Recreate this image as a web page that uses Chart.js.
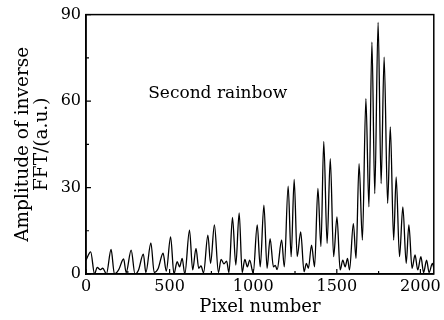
<!DOCTYPE html>
<html>
<head>
<meta charset="utf-8">
<script src="https://cdn.jsdelivr.net/npm/chart.js@4/dist/chart.umd.min.js"></script>
<style>
  html, body { margin: 0; padding: 0; background: #fff; }
  #wrap { width: 444px; height: 320px; }
</style>
</head>
<body>
<div id="wrap"><canvas id="c" width="444" height="320"></canvas></div>
<script>
const pixelNumber = [0,28,51,67,85,100,122,150,170,195,225,240,270,293,313,343,358,388,408,431,461,480,506,526,545,560,575,591,619,638,658,674,688,703,729,745,768,792,808,825,841,855,876,896,916,934,950,965,979,1000,1024,1042,1064,1083,1101,1121,1132,1143,1170,1186,1209,1227,1245,1263,1284,1304,1318,1330,1349,1367,1387,1405,1422,1442,1461,1481,1501,1520,1536,1550,1564,1576,1599,1615,1633,1653,1674,1692,1710,1727,1747,1765,1783,1804,1820,1840,1855,1875,1895,1915,1931,1950,1968,1984,2003,2019,2037,2052,2072,2080];
const amplitude = [4.8,7.7,0,2.3,1.5,2,0,8.5,0,1.4,5.2,0.5,8.3,0,1.2,6.9,0.5,10.8,0.5,1.8,7.2,1,12.9,0,4.3,2.5,5.4,0,15.2,1.4,8.9,2,2.8,0.4,13.5,3.7,17,0.5,5.1,3.5,4.5,0.5,19.6,3.1,21.2,0.5,5.1,2.5,4.8,0.3,17,2.5,23.9,2,12.3,2.5,3,1.5,11.8,2.5,30.5,6,32.8,6,14.6,0.8,3.7,2,10,2.5,29.7,9.5,46,10.6,40,6,19.8,1.4,4.8,2.5,5.4,1.4,17.5,5.4,38.3,11.8,60.8,23.3,80.4,27.9,87.3,31.4,75.2,24.5,51,11.8,33.7,6,23.3,3.7,17,2,6.6,1.4,6,0.5,4.8,0.5,3.7,2];
const xTicks = [0,500,1000,1500,2000];
const yTicks = [0,30,60,90];
const xTitle = 'Pixel number';
const yTitle = ['Amplitude of inverse', 'FFT/(a.u.)'];
const noteText = 'Second rainbow';
const notePos = {x: 372, y: 62.7};

const points = pixelNumber.map((x, i) => ({x: x, y: amplitude[i]}));
const serif = "'DejaVu Serif', 'Liberation Serif', serif";

const framePlugin = {
  id: 'frame',
  afterDatasetsDraw(chart) {
    const {ctx, chartArea: a, scales} = chart;
    ctx.save();
    ctx.strokeStyle = '#000';
    ctx.lineWidth = 1.5;
    ctx.strokeRect(a.left, a.top, a.right - a.left, a.bottom - a.top);
    ctx.lineWidth = 1.2;
    ctx.beginPath();
    for (let v = 0; v <= 2000; v += 250) {
      const px = scales.x.getPixelForValue(v);
      const len = (v % 500 === 0) ? 5 : 3;
      ctx.moveTo(px, a.bottom); ctx.lineTo(px, a.bottom - len);
    }
    for (let v = 0; v <= 90; v += 15) {
      const py = scales.y.getPixelForValue(v);
      const len = (v % 30 === 0) ? 5 : 3;
      ctx.moveTo(a.left, py); ctx.lineTo(a.left + len, py);
    }
    ctx.stroke();
    ctx.fillStyle = '#000';
    ctx.font = Chart.helpers.toFont({ family: serif, size: 17 }).string;
    ctx.textBaseline = 'middle';
    ctx.textAlign = 'left';
    ctx.fillText(noteText, scales.x.getPixelForValue(notePos.x), scales.y.getPixelForValue(notePos.y));
    ctx.restore();
  }
};

new Chart(document.getElementById('c'), {
  type: 'line',
  data: {
    datasets: [{
      data: points,
      borderColor: '#000',
      borderWidth: 1.3,
      pointRadius: 0,
      fill: false,
      cubicInterpolationMode: 'monotone'
    }]
  },
  options: {
    responsive: false,
    animation: false,
    events: [],
    layout: { padding: { top: 14, right: 6, left: 0, bottom: 0 } },
    plugins: { legend: { display: false }, tooltip: { enabled: false } },
    scales: {
      x: {
        type: 'linear',
        min: 0, max: 2080,
        afterBuildTicks(s) { s.ticks = xTicks.map(v => ({value: v})); },
        afterFit(s) { s.height = 46; },
        grid: { display: false, drawTicks: false },
        border: { display: true, color: '#000', width: 1.5 },
        ticks: { color: '#000', font: { family: serif, size: 16 }, padding: 3, maxRotation: 0, autoSkip: false, callback: v => String(v) },
        title: { display: true, text: xTitle, color: '#000', font: { family: serif, size: 18 }, padding: { top: 0, bottom: 2 } }
      },
      y: {
        min: 0, max: 90,
        afterBuildTicks(s) { s.ticks = yTicks.map(v => ({value: v})); },
        afterFit(s) { s.width = 86; },
        grid: { display: false, drawTicks: false },
        border: { display: true, color: '#000', width: 1.5 },
        ticks: { color: '#000', font: { family: serif, size: 16 }, padding: 5, callback: v => String(v) },
        title: { display: true, text: yTitle, color: '#000', font: { family: serif, size: 18.5, lineHeight: 1.05 }, padding: { top: 13, bottom: 0 } }
      }
    }
  },
  plugins: [framePlugin]
});
</script>
</body>
</html>
